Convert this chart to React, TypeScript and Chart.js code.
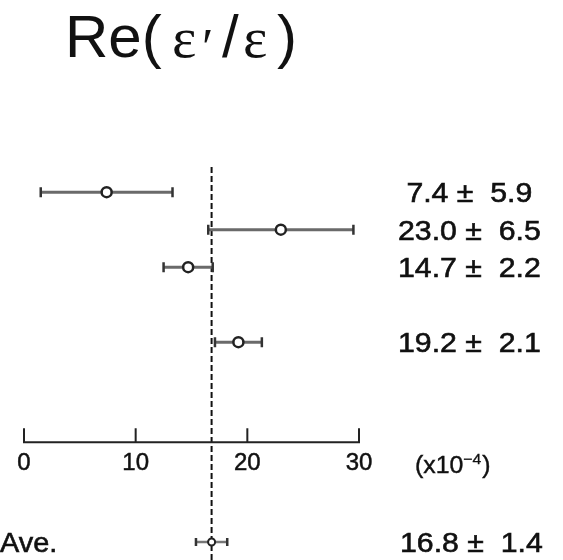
import React, { useEffect, useRef } from "react";
import { Chart, registerables } from "chart.js";

Chart.register(...registerables);

// ---- data ----
const measurementValues = [7.4, 23.0, 14.7, 19.2];
const measurementErrors = [5.9, 6.5, 2.2, 2.1];
const measurementRows = [1, 2, 3, 5];
const averageValue = 16.8;
const averageError = 1.4;
const averageRow = 10.33;
const averageLabel = "Ave.";
const axisRow = 7.67;
const xTickValues = [0, 10, 20, 30];
const xMin = 0;
const xMax = 30;
const unitLabelBase = "(x10";
const unitLabelExponent = "\u22124";
const unitLabelClose = ")";
const dashTopRow = 0.33;
const dashBottomRow = 10.81;

const pad4 = (v: number) => v.toFixed(1).padStart(4, " ");
const rowLabel = (v: number, e: number) => `${pad4(v)} \u00b1 ${pad4(e)}`;

const SANS = '"Liberation Sans", Arial, Helvetica, sans-serif';
const SERIF = '"Liberation Serif", "Times New Roman", serif';

function drawScaled(ctx: CanvasRenderingContext2D, text: string, x: number, y: number, sx: number, stroke = 0) {
  ctx.save();
  ctx.translate(x, y);
  ctx.scale(sx, 1);
  ctx.fillText(text, 0, 0);
  if (stroke > 0) {
    ctx.lineWidth = stroke;
    ctx.strokeText(text, 0, 0);
  }
  ctx.restore();
}

const overlayPlugin = {
  id: "overlay",
  beforeDatasetsDraw(chart: any) {
    const { ctx, scales } = chart;
    const x = scales.x;
    const y = scales.y;
    ctx.save();
    // dashed average line
    const mx = x.getPixelForValue(averageValue);
    ctx.strokeStyle = "#111";
    ctx.lineWidth = 2;
    ctx.setLineDash([6, 3]);
    ctx.beginPath();
    ctx.moveTo(mx, y.getPixelForValue(dashTopRow));
    ctx.lineTo(mx, y.getPixelForValue(dashBottomRow));
    ctx.stroke();
    ctx.setLineDash([]);

    const errBar = (v: number, e: number, row: number, lw: number, cap: number, color: string) => {
      const py = y.getPixelForValue(row);
      const x1 = x.getPixelForValue(v - e);
      const x2 = x.getPixelForValue(v + e);
      ctx.strokeStyle = color;
      ctx.lineWidth = lw;
      ctx.beginPath();
      ctx.moveTo(x1, py);
      ctx.lineTo(x2, py);
      ctx.stroke();
      ctx.strokeStyle = "#333";
      ctx.lineWidth = 2.5;
      ctx.beginPath();
      ctx.moveTo(x1, py - cap);
      ctx.lineTo(x1, py + cap);
      ctx.moveTo(x2, py - cap);
      ctx.lineTo(x2, py + cap);
      ctx.stroke();
    };
    measurementValues.forEach((v, i) => errBar(v, measurementErrors[i], measurementRows[i], 3, 5, "#6a6a6a"));
    errBar(averageValue, averageError, averageRow, 2.5, 4, "#777");
    ctx.restore();
  },
  afterDatasetsDraw(chart: any) {
    const { ctx, scales } = chart;
    const x = scales.x;
    const y = scales.y;
    ctx.save();
    ctx.fillStyle = "#111";
    ctx.strokeStyle = "#111";
    ctx.textAlign = "left";
    ctx.textBaseline = "alphabetic";

    // title
    const tb = 57;
    ctx.font = `60px ${SANS}`;
    ctx.fillText("Re(", 65, tb);
    ctx.font = `58px ${SERIF}`;
    ctx.fillText("\u03b5", 172, tb);
    ctx.font = `52px ${SERIF}`;
    ctx.fillText("\u2032", 202, tb + 8);
    ctx.font = `60px ${SANS}`;
    ctx.fillText("/", 222, tb);
    ctx.font = `58px ${SERIF}`;
    ctx.fillText("\u03b5", 243, tb);
    ctx.font = `60px ${SANS}`;
    ctx.fillText(")", 277, tb);

    // axis
    const ay = y.getPixelForValue(axisRow);
    const ax0 = x.getPixelForValue(xMin);
    const ax1 = x.getPixelForValue(xMax);
    ctx.strokeStyle = "#222";
    ctx.lineWidth = 2;
    ctx.beginPath();
    ctx.moveTo(ax0, ay);
    ctx.lineTo(ax1, ay);
    xTickValues.forEach((t) => {
      const tx = x.getPixelForValue(t);
      ctx.moveTo(tx, ay + 1);
      ctx.lineTo(tx, ay - 14);
    });
    ctx.stroke();
    ctx.strokeStyle = "#111";
    ctx.font = `24px ${SANS}`;
    ctx.textAlign = "center";
    xTickValues.forEach((t) => {
      const tx = x.getPixelForValue(t);
      ctx.fillText(String(t), tx, ay + 28);
      ctx.lineWidth = 0.5;
      ctx.strokeText(String(t), tx, ay + 28);
    });

    // unit label
    ctx.textAlign = "left";
    let ux = ax1 + 56;
    const uy = ay + 31;
    ctx.font = `23px ${SANS}`;
    drawScaled(ctx, unitLabelBase, ux, uy, 1.08, 0.4);
    ux += ctx.measureText(unitLabelBase).width * 1.08;
    ctx.font = `15px ${SANS}`;
    drawScaled(ctx, unitLabelExponent, ux, uy - 9, 1.05, 0.3);
    ux += ctx.measureText(unitLabelExponent).width * 1.05 + 1;
    ctx.font = `23px ${SANS}`;
    drawScaled(ctx, unitLabelClose, ux, uy, 1.08, 0.4);

    // value labels
    ctx.font = `27px ${SANS}`;
    const lx = ax1 + 39;
    measurementValues.forEach((v, i) => {
      drawScaled(ctx, rowLabel(v, measurementErrors[i]), lx, y.getPixelForValue(measurementRows[i]) + 10, 1.12, 0.6);
    });
    drawScaled(ctx, rowLabel(averageValue, averageError), lx + 2, y.getPixelForValue(averageRow) + 10, 1.12, 0.6);

    // Ave. label
    ctx.font = `28px ${SANS}`;
    drawScaled(ctx, averageLabel, 0, y.getPixelForValue(averageRow) + 10, 1.03, 0.6);
    ctx.restore();
  },
};

export default function App() {
  const canvasRef = useRef<HTMLCanvasElement | null>(null);
  useEffect(() => {
    if (!canvasRef.current) return;
    const chart = new Chart(canvasRef.current, {
      type: "scatter",
      data: {
        datasets: [
          {
            data: measurementValues.map((v, i) => ({ x: v, y: measurementRows[i] })),
            pointRadius: 5,
            pointBorderWidth: 2.5,
            borderColor: "#222",
            backgroundColor: "#ffffff",
            clip: false,
          },
          {
            data: [{ x: averageValue, y: averageRow }],
            pointRadius: 3.5,
            pointBorderWidth: 2,
            borderColor: "#222",
            backgroundColor: "#ffffff",
            clip: false,
          },
        ],
      },
      options: {
        animation: false,
        responsive: false,
        devicePixelRatio: 1,
        layout: { autoPadding: false, padding: { left: 24, right: 204, top: 167, bottom: 0 } },
        scales: {
          x: { type: "linear", min: xMin, max: xMax, display: false },
          y: { type: "linear", min: dashTopRow, max: dashBottomRow, reverse: true, display: false },
        },
        plugins: { legend: { display: false }, tooltip: { enabled: false }, title: { display: false } },
      },
      plugins: [overlayPlugin],
    } as any);
    return () => chart.destroy();
  }, []);
  return (
    <div style={{ position: "fixed", left: 0, top: 0, width: 563, height: 560, background: "#fff" }}>
      <canvas ref={canvasRef} width={563} height={560} />
    </div>
  );
}
